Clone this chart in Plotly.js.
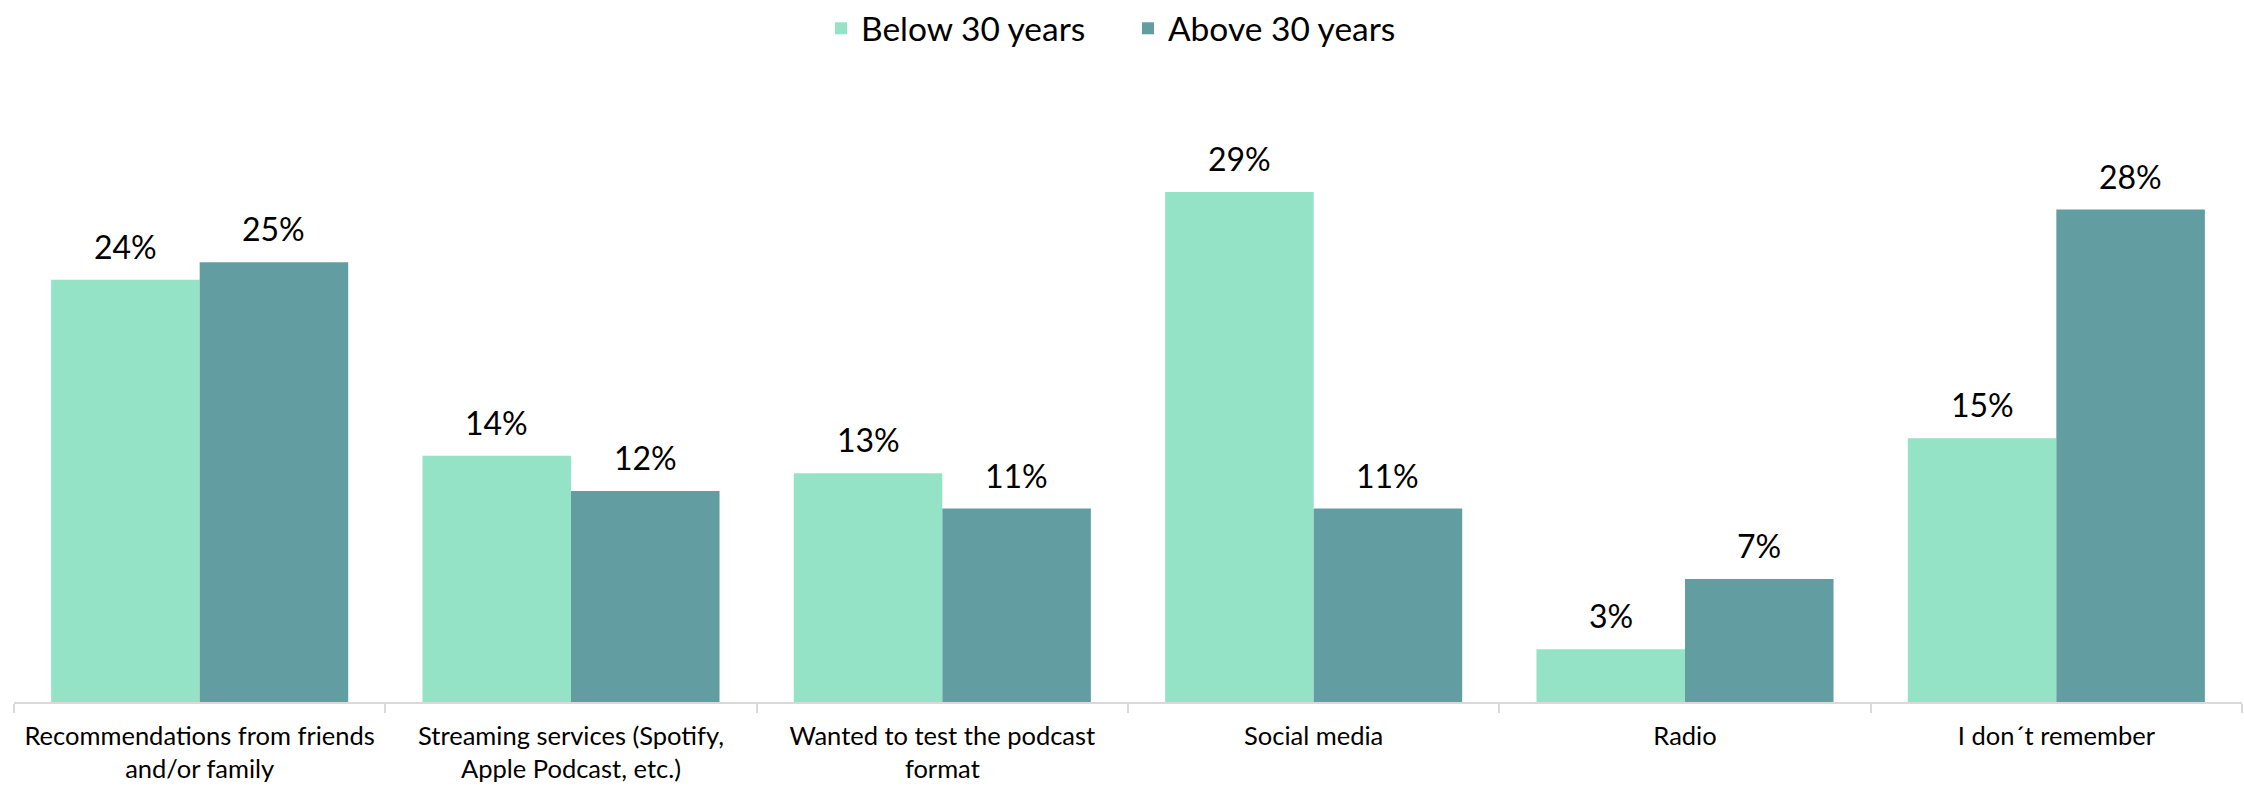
<!DOCTYPE html>
<html>
<head>
<meta charset="utf-8">
<script src="https://cdn.plot.ly/plotly-3.0.1.min.js"></script>
<style>html,body{margin:0;padding:0;background:#fff;}#chart{width:2244px;height:788px;}</style>
</head>
<body>
<div id="chart"></div>
<script>
const categories = [
  "Recommendations from friends<br>and/or family",
  "Streaming services (Spotify,<br>Apple Podcast, etc.)",
  "Wanted to test the podcast<br>format",
  "Social media",
  "Radio",
  "I don\u00b4t remember"
];
const seriesNames = ["Below 30 years", "Above 30 years"];
const below30 = [24, 14, 13, 29, 3, 15];
const above30 = [25, 12, 11, 11, 7, 28];
const colors = ["#95e3c6", "#629ea1"];

const FONT = "Lato, 'Open Sans', sans-serif";
const W = 2244, ML = 14, MR = 2;
const catW = (W - ML - MR) / categories.length;
const bargap = 0.2;
const half = catW * (1 - bargap) / 4;

const seriesVals = [below30, above30];
const traces = seriesVals.map((vals, i) => ({
  type: "bar",
  name: seriesNames[i],
  x: categories,
  y: vals,
  marker: {color: colors[i]},
  hoverinfo: "none"
}));

const annotations = [];
seriesVals.forEach((vals, i) => {
  vals.forEach((v, j) => {
    annotations.push({
      x: categories[j], y: v, xref: "x", yref: "y",
      xshift: (i === 0 ? -1 : 1) * half,
      yshift: 12,
      yanchor: "bottom",
      showarrow: false,
      text: v + "%",
      font: {family: FONT, size: 32, color: "#000"}
    });
  });
});

const layout = {
  width: 2244, height: 788,
  margin: {l: ML, r: MR, t: 60, b: 86},
  paper_bgcolor: "#fff", plot_bgcolor: "#fff",
  barmode: "group",
  bargap: bargap,
  bargroupgap: 0,
  showlegend: true,
  legend: {
    orientation: "h", x: 0.5, xanchor: "center", y: 1, yref: "container", yanchor: "top",
    font: {family: FONT, size: 33.5, color: "#000"},
    entrywidth: 262, traceorder: "normal"
  },
  xaxis: {
    type: "category",
    showline: true, linecolor: "#d9d9d9", linewidth: 2,
    ticks: "outside", tickson: "boundaries", ticklen: 9, tickwidth: 2, tickcolor: "#d9d9d9",
    tickfont: {family: FONT, size: 25.5, color: "#000"},
    tickangle: 0,
    ticklabelstandoff: 10,
    automargin: false, fixedrange: true
  },
  yaxis: {
    range: [0, 36.5], showgrid: false, showticklabels: false, zeroline: false, showline: false,
    ticks: "", automargin: false, fixedrange: true
  },
  annotations: annotations
};

Plotly.newPlot("chart", traces, layout, {displayModeBar: false, staticPlot: true});
</script>
</body>
</html>
